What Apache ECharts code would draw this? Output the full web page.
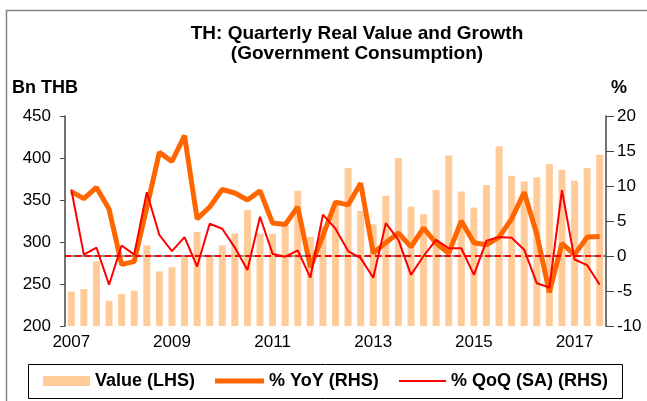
<!DOCTYPE html>
<html>
<head>
    <meta charset="UTF-8">
    <title>TH: Quarterly Real Value and Growth</title>
    <script src="https://cdn.jsdelivr.net/npm/echarts@6/dist/echarts.min.js"></script>
    <style>
        html, body { margin: 0; padding: 0; background: #fff; }
        #chart { width: 647px; height: 401px; }
    </style>
</head>
<body>
<div id="chart"></div>
<script>
    // 2007Q1 .. 2017Q3
    var quarters = [
        '2007Q1','2007Q2','2007Q3','2007Q4','2008Q1','2008Q2','2008Q3','2008Q4',
        '2009Q1','2009Q2','2009Q3','2009Q4','2010Q1','2010Q2','2010Q3','2010Q4',
        '2011Q1','2011Q2','2011Q3','2011Q4','2012Q1','2012Q2','2012Q3','2012Q4',
        '2013Q1','2013Q2','2013Q3','2013Q4','2014Q1','2014Q2','2014Q3','2014Q4',
        '2015Q1','2015Q2','2015Q3','2015Q4','2016Q1','2016Q2','2016Q3','2016Q4',
        '2017Q1','2017Q2','2017Q3'
    ];

    // Bn THB
    var value = [
        241, 244, 277, 230,  238, 242, 296, 265,
        270, 282, 312, 282,  296, 310, 338, 310,
        310, 320, 361, 306,  319, 346, 388, 337,
        321, 355, 400, 342,  333, 362, 403, 360,
        341, 368, 414, 379,  372, 377, 393, 386,
        373, 388, 404
    ];

    // % YoY
    var yoy = [
        9.2, 8.2, 9.8, 6.7,   -1.2, -0.8, 6.9, 14.8,
        13.5, 17.2, 5.3, 7.0,  9.5, 9.0, 8.0, 9.3,
        4.7, 4.5, 7.0, -1.6,   2.9, 7.7, 7.3, 10.4,
        0.4, 1.9, 3.3, 1.3,    4.0, 1.8, 0.4, 5.0,
        1.9, 1.6, 2.7, 5.3,    9.1, 3.1, -5.2, 1.8,
        0.2, 2.7, 2.8
    ];

    // % QoQ (SA)
    var qoq = [
        9.5, 0.2, 1.2, -4.1,   1.5, 0.2, 9.1, 3.0,
        0.7, 2.7, -1.5, 4.6,   3.9, 1.2, -2.0, 5.6,
        0.3, -0.1, 0.8, -3.1,  5.9, 3.9, 0.7, -0.3,
        -3.1, 4.7, 2.3, -2.7,  0.0, 2.3, 1.1, 1.1,
        -2.7, 2.2, 2.7, 2.6,   0.9, -3.9, -4.5, 9.4,
        -0.5, -1.3, -4.1
    ];

    var chart = echarts.init(document.getElementById('chart'));
    var font = 'Liberation Sans, Arial, sans-serif';
    var legendText = { fontSize: 18, fontWeight: 'bold', color: '#000' };

    var option = {
        animation: false,
        backgroundColor: '#fff',
        textStyle: { fontFamily: font },
        title: {
            text: 'TH: Quarterly Real Value and Growth\n(Government Consumption)',
            left: 352,
            top: 19,
            textAlign: 'center',
            textStyle: { fontSize: 19, fontWeight: 'bold', color: '#000', lineHeight: 20 }
        },
        graphic: [
            { type: 'rect', left: 4, top: 8, shape: { width: 700, height: 500 },
              style: { fill: 'none', stroke: '#888', lineWidth: 1.5 }, silent: true },
            { type: 'rect', left: 28, top: 364, shape: { width: 594, height: 34 },
              style: { fill: '#fff', stroke: '#000', lineWidth: 1 }, silent: true, z: -1 },
            { type: 'text', left: 12, top: 79,
              style: { text: 'Bn THB', font: 'bold 18px ' + font, fill: '#000' } },
            { type: 'text', left: 611, top: 79,
              style: { text: '%', font: 'bold 18px ' + font, fill: '#000' } }
        ],
        legend: [
            {
                left: 43, top: 372, padding: 0,
                itemWidth: 47, itemHeight: 10,
                textStyle: legendText,
                data: [{ name: 'Value (LHS)', icon: 'rect' }]
            },
            {
                left: 215, top: 372, padding: 0,
                itemWidth: 49, itemHeight: 5,
                textStyle: legendText,
                data: [{ name: '% YoY (RHS)', icon: 'rect' }]
            },
            {
                left: 399, top: 372, padding: 0,
                itemWidth: 47, itemHeight: 2,
                textStyle: legendText,
                data: [{ name: '% QoQ (SA) (RHS)', icon: 'rect' }]
            }
        ],
        grid: { left: 65, right: 41, top: 116, bottom: 75 },
        xAxis: {
            type: 'category',
            data: quarters,
            boundaryGap: true,
            axisLine: { lineStyle: { color: '#666', width: 1.5 } },
            axisTick: {
                alignWithLabel: false,
                length: 5,
                interval: function (i) { return i % 4 === 0; },
                lineStyle: { color: '#333' }
            },
            axisLabel: {
                interval: function (i) { return i % 8 === 0; },
                formatter: function (v) { return v.slice(0, 4); },
                fontSize: 17,
                color: '#000',
                margin: 8
            }
        },
        yAxis: [
            {
                type: 'value',
                min: 200, max: 450, interval: 50,
                axisLine: { show: true, lineStyle: { color: '#444', width: 1.5 } },
                axisTick: { show: true, length: 5, lineStyle: { color: '#444' } },
                axisLabel: { fontSize: 17, color: '#000', margin: 14 },
                splitLine: { show: false }
            },
            {
                type: 'value',
                min: -10, max: 20, interval: 5,
                axisLine: { show: true, lineStyle: { color: '#444', width: 1.5 } },
                axisTick: { show: true, length: 8, lineStyle: { color: '#444' } },
                axisLabel: { fontSize: 17, color: '#000', margin: 11 },
                splitLine: { show: false }
            }
        ],
        series: [
            {
                name: 'Value (LHS)',
                type: 'bar',
                data: value,
                barWidth: 7,
                itemStyle: { color: '#FFCC99' }
            },
            {
                name: '% YoY (RHS)',
                type: 'line',
                yAxisIndex: 1,
                data: yoy,
                symbol: 'none',
                lineStyle: { color: '#FF6600', width: 5 },
                itemStyle: { color: '#FF6600' }
            },
            {
                name: '% QoQ (SA) (RHS)',
                type: 'line',
                yAxisIndex: 1,
                data: qoq,
                symbol: 'none',
                lineStyle: { color: '#FF0000', width: 2 },
                itemStyle: { color: '#FF0000' },
                markLine: {
                    silent: true,
                    symbol: 'none',
                    label: { show: false },
                    lineStyle: { color: '#FF0000', type: [6, 4], width: 2 },
                    data: [{ yAxis: 0 }]
                }
            }
        ]
    };
    chart.setOption(option);
</script>
</body>
</html>
